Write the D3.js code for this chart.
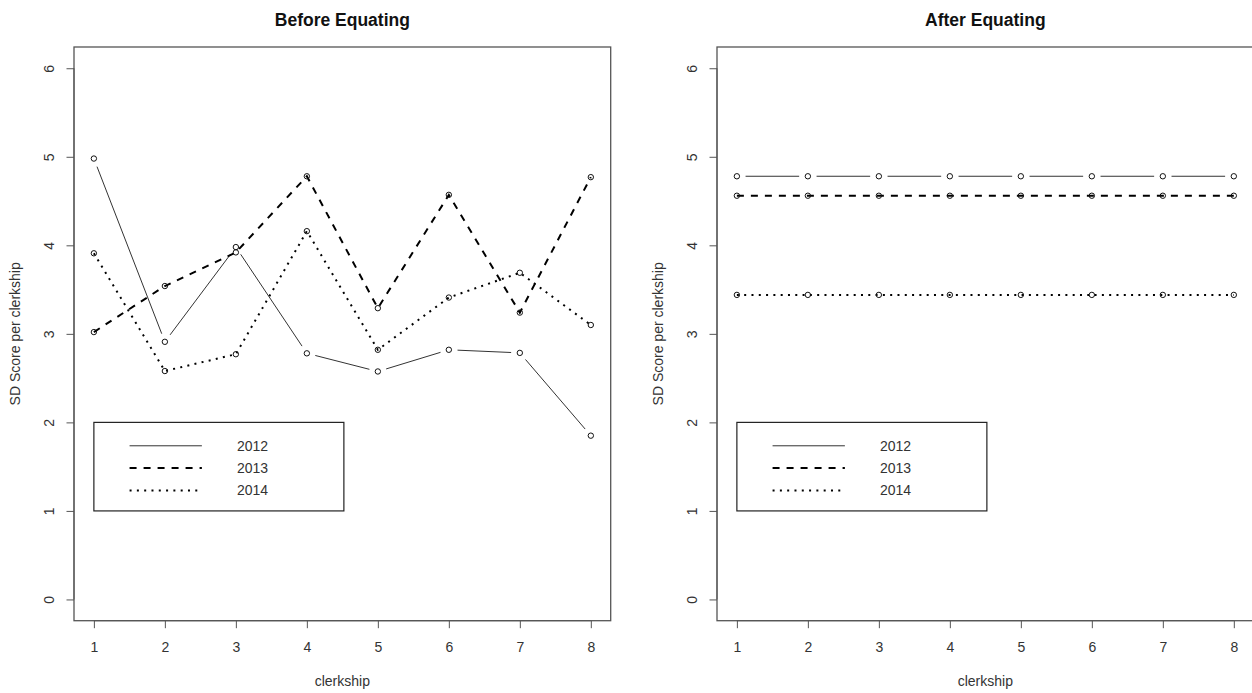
<!DOCTYPE html>
<html>
<head>
<meta charset="utf-8">
<script src="https://cdn.jsdelivr.net/npm/d3@7"></script>
<style>
  body { margin: 0; background: #fff; }
  svg { display: block; font-family: "Liberation Sans", Arial, sans-serif; }
</style>
</head>
<body>
<script>
// clerkship numbers and the yearly SD scores
var clerkships = [1, 2, 3, 4, 5, 6, 7, 8];
var years = ["2012", "2013", "2014"];

var before2012 = [4.98, 2.91, 3.98, 2.78, 2.575, 2.82, 2.785, 1.85];
var before2013 = [3.02, 3.54, 3.92, 4.78, 3.29, 4.57, 3.24, 4.77];
var before2014 = [3.91, 2.58, 2.77, 4.16, 2.82, 3.41, 3.69, 3.10];

var after2012 = [4.78, 4.78, 4.78, 4.78, 4.78, 4.78, 4.78, 4.78];
var after2013 = [4.56, 4.56, 4.56, 4.56, 4.56, 4.56, 4.56, 4.56];
var after2014 = [3.44, 3.44, 3.44, 3.44, 3.44, 3.44, 3.44, 3.44];

var yTicks = [0, 1, 2, 3, 4, 5, 6];

var width = 1252;
var height = 693;

var svg = d3.select("body")
    .append("svg")
    .attr("width", width)
    .attr("height", height);

// line look for each year (solid / dashed / dotted)
var styles = {
  "2012": { dash: null, w: 1, color: "#333", gap: true },
  "2013": { dash: "7,7", w: 2, color: "#000", gap: false },
  "2014": { dash: "2,5.3", w: 2, color: "#000", gap: false }
};

function drawPanel(offsetX, title, series) {
  var left = offsetX + 74, right = offsetX + 610.7;
  var top = 47, bottom = 620.7;

  var x = d3.scaleLinear().domain([0.72, 8.28]).range([left, right]);
  var y = d3.scaleLinear().domain([-0.24, 6.24]).range([bottom, top]);

  var g = svg.append("g");

  // title
  g.append("text")
      .attr("x", (left + right) / 2)
      .attr("y", 26)
      .attr("text-anchor", "middle")
      .style("font-weight", "bold")
      .style("font-size", "17.5px")
      .style("fill", "#111")
      .text(title);

  // x axis
  var xAxis = g.append("g")
      .attr("transform", "translate(0," + bottom + ")")
      .call(d3.axisBottom(x).tickValues(clerkships).tickSize(7.5).tickFormat(d3.format("d")));
  xAxis.select(".domain").attr("d", "M" + x(1) + ",0H" + x(8)).attr("stroke", "#555");
  xAxis.selectAll(".tick line").attr("stroke", "#555");
  xAxis.selectAll(".tick text")
      .attr("y", 31)
      .attr("dy", 0)
      .style("font-size", "14px")
      .style("font-family", "Liberation Sans, Arial, sans-serif")
      .style("fill", "#333");

  // y axis, labels turned like R does
  var yAxis = g.append("g")
      .attr("transform", "translate(" + left + ",0)")
      .call(d3.axisLeft(y).tickValues(yTicks).tickSize(7.5).tickFormat(d3.format("d")));
  yAxis.select(".domain").attr("d", "M0," + y(0) + "V" + y(6)).attr("stroke", "#555");
  yAxis.selectAll(".tick line").attr("stroke", "#555");
  yAxis.selectAll(".tick text")
      .attr("transform", "rotate(-90)")
      .attr("x", 0)
      .attr("y", -20)
      .attr("dy", 0)
      .attr("text-anchor", "middle")
      .style("font-size", "14px")
      .style("font-family", "Liberation Sans, Arial, sans-serif")
      .style("fill", "#333");

  // box
  g.append("rect")
      .attr("x", left)
      .attr("y", top)
      .attr("width", right - left)
      .attr("height", bottom - top)
      .attr("fill", "none")
      .attr("stroke", "#555")
      .attr("stroke-width", 1.3);

  // axis titles
  g.append("text")
      .attr("x", (left + right) / 2)
      .attr("y", 686)
      .attr("text-anchor", "middle")
      .style("font-size", "14px")
      .style("fill", "#333")
      .text("clerkship");

  g.append("text")
      .attr("transform", "translate(" + (offsetX + 20) + "," + ((top + bottom) / 2) + ") rotate(-90)")
      .attr("text-anchor", "middle")
      .style("font-size", "14px")
      .style("fill", "#333")
      .text("SD Score per clerkship");

  // lines and points
  years.forEach(function(yr, k) {
    var vals = series[k];
    var st = styles[yr];
    var pts = clerkships.map(function(c, i) { return [x(c), y(vals[i])]; });

    if (st.gap) {
      // type "b": leave a gap round each point
      for (var i = 0; i < pts.length - 1; i++) {
        var p = pts[i], q = pts[i + 1];
        var dx = q[0] - p[0], dy = q[1] - p[1];
        var len = Math.sqrt(dx * dx + dy * dy);
        var gp = 8.7;
        if (len <= 2 * gp) continue;
        g.append("line")
            .attr("x1", p[0] + dx / len * gp)
            .attr("y1", p[1] + dy / len * gp)
            .attr("x2", q[0] - dx / len * gp)
            .attr("y2", q[1] - dy / len * gp)
            .attr("stroke", st.color)
            .attr("stroke-width", st.w);
      }
    } else {
      g.append("path")
          .datum(pts)
          .attr("d", d3.line())
          .attr("fill", "none")
          .attr("stroke", st.color)
          .attr("stroke-width", st.w)
          .attr("stroke-dasharray", st.dash);
    }

    g.selectAll(null)
        .data(pts)
        .enter()
        .append("circle")
        .attr("cx", function(d) { return d[0]; })
        .attr("cy", function(d) { return d[1]; })
        .attr("r", 2.7)
        .attr("fill", "none")
        .attr("stroke", "#111")
        .attr("stroke-width", 1);
  });

  // legend, top-left corner at (1, 2)
  var lx = x(1), ly = y(2);
  var leg = g.append("g").attr("transform", "translate(" + lx + "," + ly + ")");
  leg.append("rect")
      .attr("width", 250)
      .attr("height", y(1) - y(2))
      .attr("fill", "none")
      .attr("stroke", "#222")
      .attr("stroke-width", 1.2);

  years.forEach(function(yr, k) {
    var st = styles[yr];
    var cy = 23.4 + k * 22.3;
    leg.append("line")
        .attr("x1", 35.7)
        .attr("x2", 108)
        .attr("y1", cy)
        .attr("y2", cy)
        .attr("stroke", st.color)
        .attr("stroke-width", st.w)
        .attr("stroke-dasharray", st.dash);
    leg.append("text")
        .attr("x", 143)
        .attr("y", cy + 5)
        .style("font-size", "14px")
        .style("fill", "#333")
        .text(yr);
  });
}

drawPanel(0, "Before Equating", [before2012, before2013, before2014]);
drawPanel(643, "After Equating", [after2012, after2013, after2014]);
</script>
</body>
</html>
